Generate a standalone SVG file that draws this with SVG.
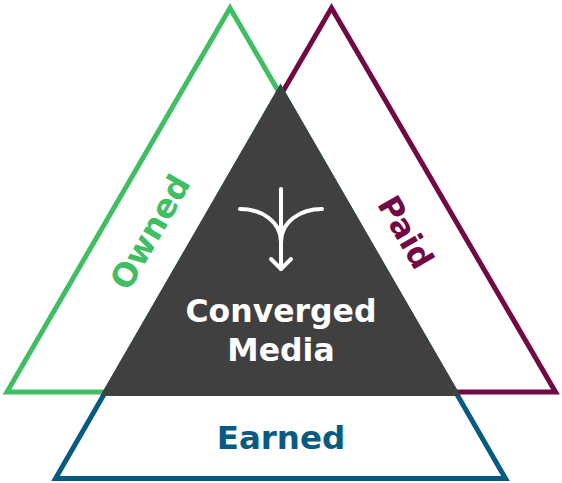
<svg xmlns="http://www.w3.org/2000/svg" width="562" height="483" viewBox="0 0 562 483">
<style>
.tri{fill:none;stroke-width:5;stroke-linejoin:miter;stroke-miterlimit:10}
.lbl{font-family:"DejaVu Sans",Verdana,sans-serif;font-weight:bold;text-anchor:middle}
.icon{fill:none;stroke:#ffffff;stroke-width:4;stroke-linecap:round;stroke-linejoin:round}
</style>
<rect width="562" height="483" fill="#ffffff"/>
<g id="owned">
<polygon class="tri" stroke="#41BE63" points="230,8 7,392 453,392"/>
<text class="lbl" fill="#41BE63" font-size="32.5" transform="translate(150,232) rotate(-60)" y="11.5">Owned</text>
</g>
<g id="paid">
<polygon class="tri" stroke="#700944" points="331.5,8 108,392 555.5,392"/>
<text class="lbl" fill="#700944" font-size="32" transform="translate(406,232) rotate(60)" y="11.5">Paid</text>
</g>
<g id="earned">
<polygon class="tri" stroke="#085B80" points="280.5,88.5 55.5,478.5 505.5,478.5"/>
<text class="lbl" fill="#085B80" font-size="32.5" x="281" y="448.5">Earned</text>
</g>
<g id="converged">
<polygon fill="#404040" points="280.5,84 100.4,396 460.6,396"/>
<text class="lbl" fill="#ffffff" font-size="31.5" x="281" y="321.5">Converged</text>
<text class="lbl" fill="#ffffff" font-size="31.5" x="281" y="361">Media</text>
<g class="icon">
<path d="M281,189 V269"/>
<path d="M271,259 L281,269 L291,259"/>
<path d="M240,209 C262,209 281,222 281,242"/>
<path d="M322,209 C300,209 281,222 281,242"/>
</g>
</g>
<g id="connectors"></g>
</svg>
